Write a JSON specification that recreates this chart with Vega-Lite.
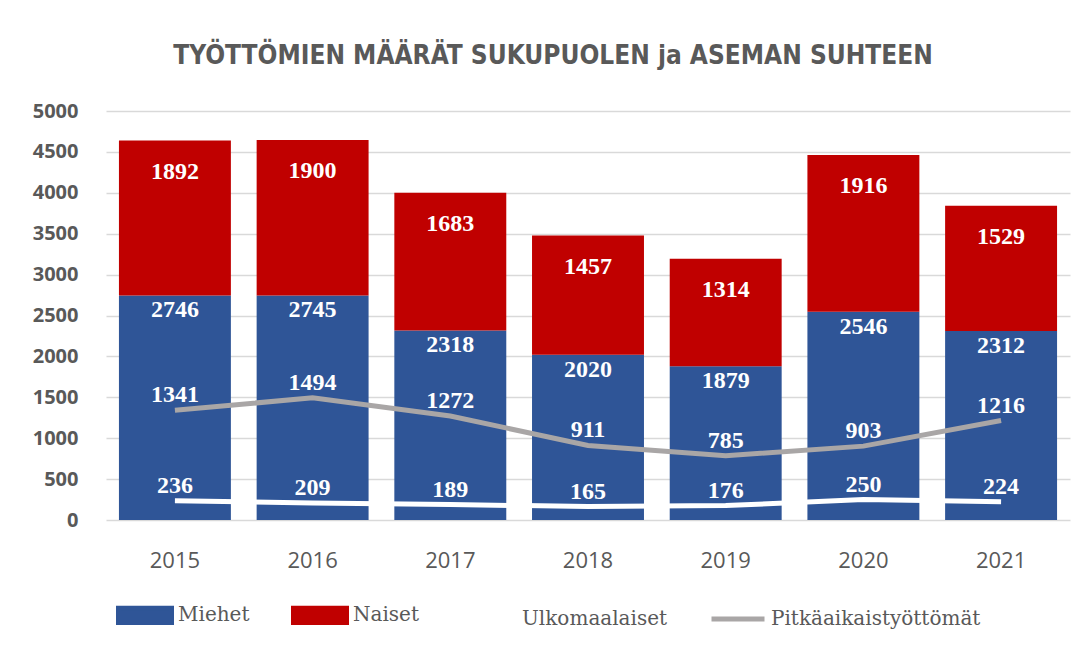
{
  "$schema": "https://vega.github.io/schema/vega-lite/v6.json",
  "width": 964,
  "height": 409,
  "autosize": {"type": "none"},
  "padding": {"left": 106, "top": 111, "right": 19, "bottom": 130},
  "background": "white",
  "title": {
    "text": "TYÖTTÖMIEN MÄÄRÄT SUKUPUOLEN ja ASEMAN SUHTEEN",
    "font": "DejaVu Sans Condensed, DejaVu Sans",
    "fontSize": 26,
    "fontWeight": "bold",
    "color": "#595959",
    "anchor": "middle",
    "dx": -35,
    "offset": 32
  },
  "config": {
    "view": {"stroke": null},
    "axis": {"labelColor": "#595959", "domain": false, "ticks": false, "title": null}
  },
  "data": {
    "values": [
      {"year": "2015", "series": "Miehet", "value": 2746},
      {"year": "2016", "series": "Miehet", "value": 2745},
      {"year": "2017", "series": "Miehet", "value": 2318},
      {"year": "2018", "series": "Miehet", "value": 2020},
      {"year": "2019", "series": "Miehet", "value": 1879},
      {"year": "2020", "series": "Miehet", "value": 2546},
      {"year": "2021", "series": "Miehet", "value": 2312},
      {"year": "2015", "series": "Naiset", "value": 1892},
      {"year": "2016", "series": "Naiset", "value": 1900},
      {"year": "2017", "series": "Naiset", "value": 1683},
      {"year": "2018", "series": "Naiset", "value": 1457},
      {"year": "2019", "series": "Naiset", "value": 1314},
      {"year": "2020", "series": "Naiset", "value": 1916},
      {"year": "2021", "series": "Naiset", "value": 1529},
      {"year": "2015", "series": "Ulkomaalaiset", "value": 236},
      {"year": "2016", "series": "Ulkomaalaiset", "value": 209},
      {"year": "2017", "series": "Ulkomaalaiset", "value": 189},
      {"year": "2018", "series": "Ulkomaalaiset", "value": 165},
      {"year": "2019", "series": "Ulkomaalaiset", "value": 176},
      {"year": "2020", "series": "Ulkomaalaiset", "value": 250},
      {"year": "2021", "series": "Ulkomaalaiset", "value": 224},
      {"year": "2015", "series": "Pitkäaikaistyöttömät", "value": 1341},
      {"year": "2016", "series": "Pitkäaikaistyöttömät", "value": 1494},
      {"year": "2017", "series": "Pitkäaikaistyöttömät", "value": 1272},
      {"year": "2018", "series": "Pitkäaikaistyöttömät", "value": 911},
      {"year": "2019", "series": "Pitkäaikaistyöttömät", "value": 785},
      {"year": "2020", "series": "Pitkäaikaistyöttömät", "value": 903},
      {"year": "2021", "series": "Pitkäaikaistyöttömät", "value": 1216}
    ]
  },
  "encoding": {
    "x": {
      "field": "year",
      "type": "nominal",
      "scale": {"paddingInner": 0.187, "paddingOuter": 0.094},
      "axis": {"labelAngle": 0, "labelFont": "Open Sans", "labelFontSize": 22, "labelPadding": 30, "grid": false}
    }
  },
  "layer": [
    {
      "transform": [{"filter": "datum.series === 'Miehet' || datum.series === 'Naiset'"}],
      "mark": {"type": "bar"},
      "encoding": {
        "y": {
          "field": "value",
          "type": "quantitative",
          "stack": "zero",
          "scale": {"domain": [0, 5000], "nice": false},
          "axis": {
            "values": [0, 500, 1000, 1500, 2000, 2500, 3000, 3500, 4000, 4500, 5000],
            "format": "d",
            "labelFont": "Open Sans",
            "labelFontWeight": "bold",
            "labelFontSize": 20,
            "labelPadding": 28,
            "gridColor": "#d9d9d9",
            "gridWidth": 1.5
          }
        },
        "order": {"field": "series", "sort": "ascending"},
        "color": {
          "field": "series",
          "type": "nominal",
          "scale": {
            "domain": ["Miehet", "Naiset", "Ulkomaalaiset", "Pitkäaikaistyöttömät"],
            "range": ["#2F5597", "#C00000", "#FFFFFF", "#A9A6A6"]
          },
          "legend": {
            "orient": "none",
            "legendX": 10,
            "legendY": 475,
            "direction": "horizontal",
            "columns": 4,
            "title": null,
            "labelFont": "DejaVu Serif",
            "labelFontSize": 20,
            "labelColor": "#595959",
            "labelOffset": 4,
            "labelLimit": 0,
            "columnPadding": 33,
            "symbolSize": 2809,
            "symbolStrokeWidth": 5,
            "encode": {
              "symbols": {
                "update": {
                  "shape": {"signal": "(datum.value === 'Miehet' || datum.value === 'Naiset') ? 'M-1,-0.27H1V0.27H-1Z' : 'stroke'"},
                  "fill": {"signal": "(datum.value === 'Miehet' || datum.value === 'Naiset') ? scale('color', datum.value) : 'transparent'"},
                  "stroke": {"signal": "(datum.value === 'Miehet' || datum.value === 'Naiset') ? 'transparent' : scale('color', datum.value)"},
                  "strokeWidth": {"value": 5},
                  "opacity": {"value": 1}
                }
              }
            }
          }
        }
      }
    },
    {
      "transform": [{"filter": "datum.series === 'Miehet'"}],
      "mark": {"type": "text", "font": "Liberation Serif", "fontWeight": "bold", "fontSize": 24, "color": "white", "baseline": "middle", "dy": 15},
      "encoding": {
        "y": {"field": "value", "type": "quantitative"},
        "text": {"field": "value", "type": "quantitative"}
      }
    },
    {
      "transform": [
        {"filter": "datum.series === 'Miehet' || datum.series === 'Naiset'"},
        {"stack": "value", "groupby": ["year"], "sort": [{"field": "series", "order": "ascending"}], "as": ["v0", "v1"]},
        {"filter": "datum.series === 'Naiset'"}
      ],
      "mark": {"type": "text", "font": "Liberation Serif", "fontWeight": "bold", "fontSize": 24, "color": "white", "baseline": "middle", "dy": 31},
      "encoding": {
        "y": {"field": "v1", "type": "quantitative"},
        "text": {"field": "value", "type": "quantitative"}
      }
    },
    {
      "transform": [{"filter": "datum.series === 'Ulkomaalaiset' || datum.series === 'Pitkäaikaistyöttömät'"}],
      "mark": {"type": "line", "strokeWidth": 5},
      "encoding": {
        "y": {"field": "value", "type": "quantitative"},
        "color": {"field": "series", "type": "nominal"}
      }
    },
    {
      "transform": [{"filter": "datum.series === 'Ulkomaalaiset' || datum.series === 'Pitkäaikaistyöttömät'"}],
      "mark": {"type": "text", "font": "Liberation Serif", "fontWeight": "bold", "fontSize": 24, "color": "white", "baseline": "middle", "dy": -15},
      "encoding": {
        "y": {"field": "value", "type": "quantitative"},
        "text": {"field": "value", "type": "quantitative"}
      }
    }
  ]
}
